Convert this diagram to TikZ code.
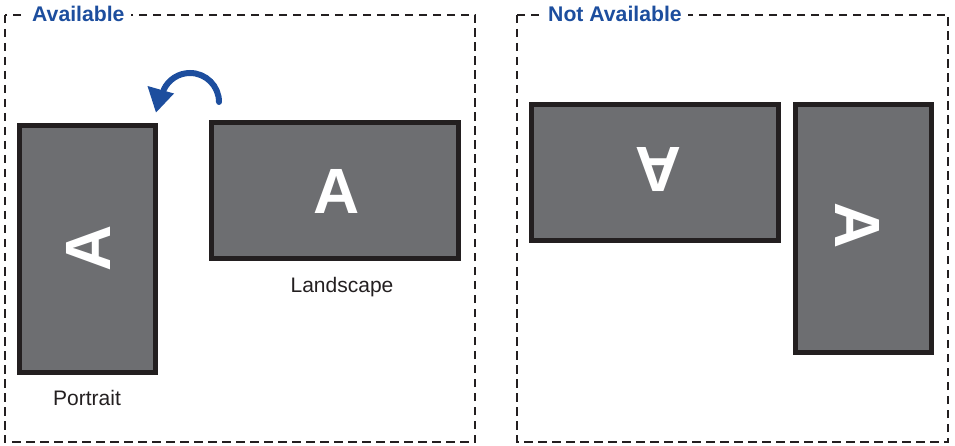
\documentclass[tikz,border=0pt]{standalone}
\usepackage{fontspec}
\setmainfont{Liberation Sans}
\definecolor{scr}{HTML}{6D6E71}
\definecolor{ink}{HTML}{231F20}
\definecolor{blu}{HTML}{1D4E9E}
\begin{document}
\begin{tikzpicture}[x=1pt,y=-1pt,
  screen/.style={draw=ink, fill=scr, line width=5pt, inner sep=0pt, minimum width=#1},
  letter/.style={text=white, font=\fontsize{64}{64}\selectfont\bfseries, inner sep=0pt},
  panel/.style={draw=ink, line width=2.2pt, dash pattern=on 8.5pt off 5.5pt},
  title/.style={text=blu, font=\fontsize{21.2}{24}\selectfont\bfseries, fill=white, inner xsep=6pt, inner ysep=2pt, anchor=west},
  caption/.style={text=ink, font=\fontsize{21}{24}\selectfont, inner sep=0pt, anchor=base},
  turn/.style={draw=blu, line width=6pt, line cap=round}]
\useasboundingbox (0,0) rectangle (955,446);
% panels
\draw[panel] (5,15) rectangle (475,442);
\draw[panel] (517,15) rectangle (948,442);
\node[title] (availtitle) at (26,14) {Available};
\node[title] (natitle) at (542,14) {Not Available};
% screens
\node[screen=136pt, minimum height=247pt] (portrait) at (87.5,249) {};
\node[screen=247pt, minimum height=136pt] (landscape) at (335,190.5) {};
\node[screen=247pt, minimum height=136pt] (badland) at (655,172.5) {};
\node[screen=136pt, minimum height=247pt] (badport) at (863,228.5) {};
% letters
\node[letter, rotate=90] (aport) at (88,248) {A};
\node[letter] (aland) at (337,191) {A};
\node[letter, rotate=180] (abadland) at (658,170) {A};
\node[letter, rotate=-90] (abadport) at (858,226) {A};
% captions
\node[caption] (landlbl) at (342,292) {Landscape};
\node[caption] (portlbl) at (87,405) {Portrait};
% rotation arrow
\draw[turn] (219,102) arc[start angle=0, end angle=-155, radius=29];
\fill[blu] (147.5,86) -- (174,93.5) -- (156,112.5) -- cycle;
\end{tikzpicture}
\end{document}
